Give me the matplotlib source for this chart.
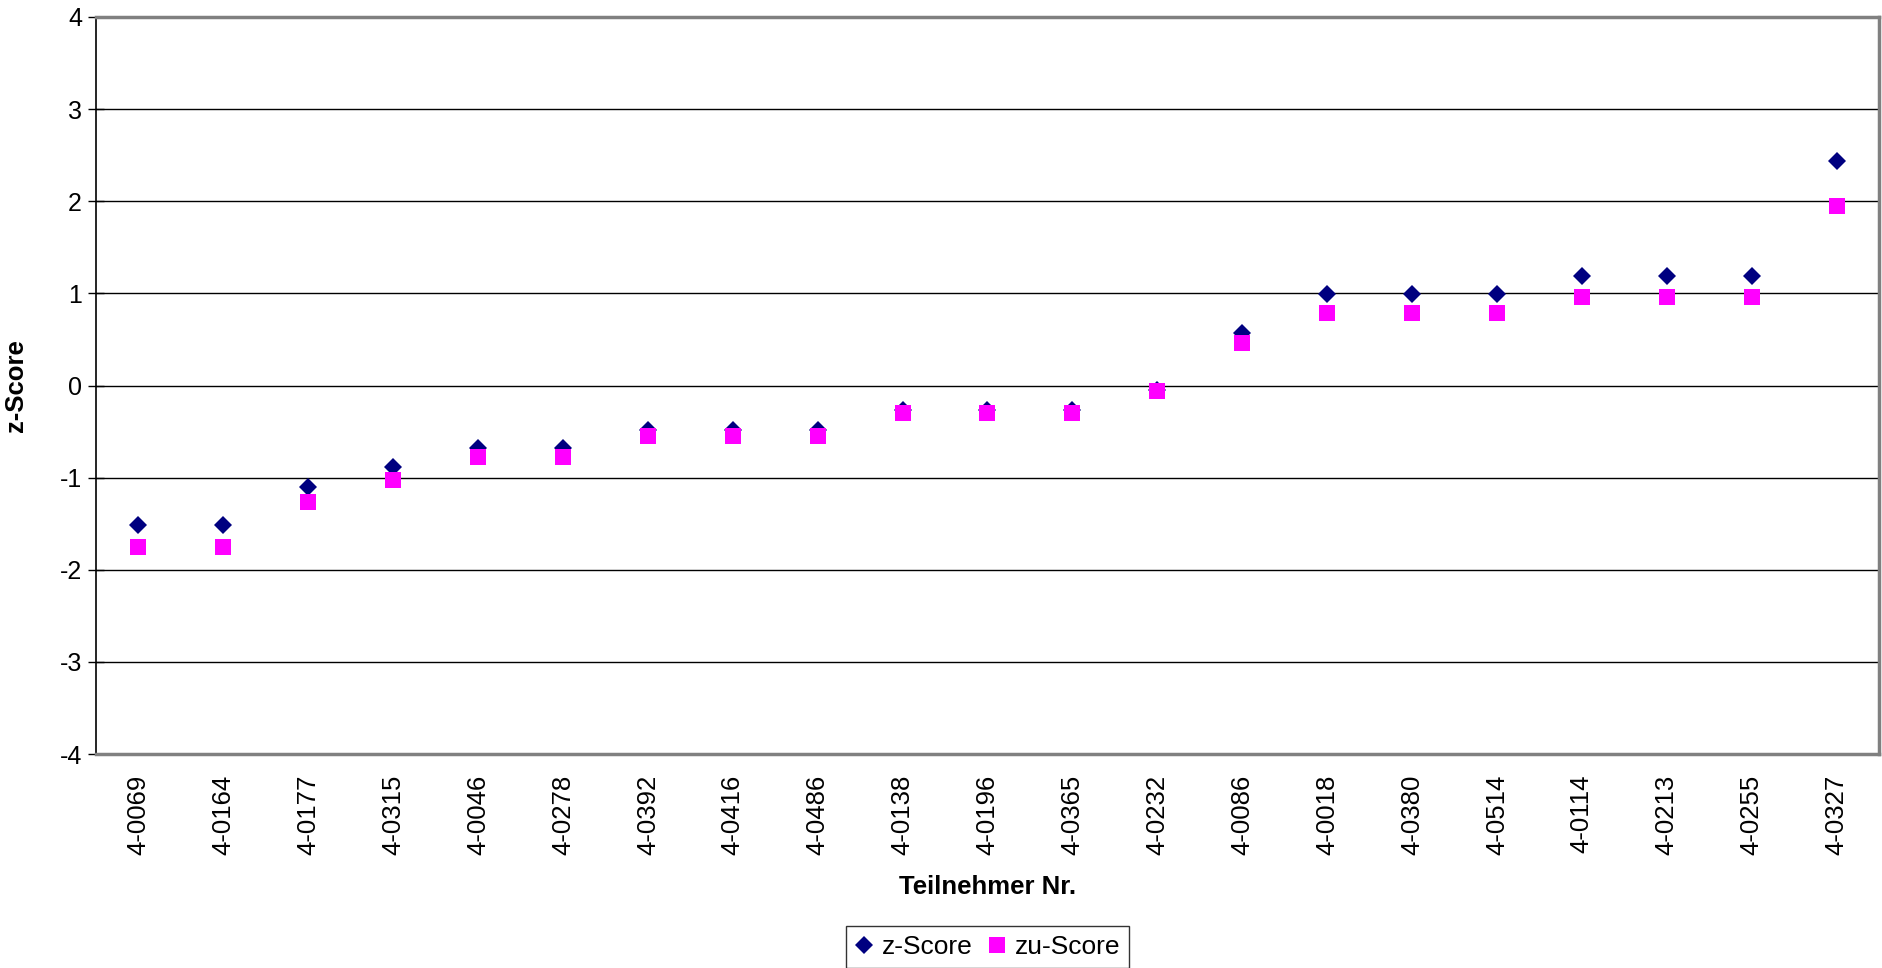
import matplotlib.pyplot as plt
import numpy as np

plt.rcParams['font.family'] = ['Liberation Sans', 'DejaVu Sans']
plt.rcParams['axes.unicode_minus'] = False

# Teilnehmer (Kategorien)
teilnehmer = ['4-0069', '4-0164', '4-0177', '4-0315', '4-0046', '4-0278', '4-0392',
              '4-0416', '4-0486', '4-0138', '4-0196', '4-0365', '4-0232', '4-0086',
              '4-0018', '4-0380', '4-0514', '4-0114', '4-0213', '4-0255', '4-0327']

# z-Score
z_score = [-1.51, -1.51, -1.10, -0.88, -0.68, -0.68, -0.48, -0.48, -0.48, -0.27, -0.27,
           -0.27, -0.05, 0.57, 0.99, 0.99, 0.99, 1.19, 1.19, 1.19, 2.44]

# zu-Score
zu_score = [-1.75, -1.75, -1.27, -1.03, -0.78, -0.78, -0.55, -0.55, -0.55, -0.30, -0.30,
            -0.30, -0.06, 0.46, 0.79, 0.79, 0.79, 0.96, 0.96, 0.96, 1.95]

x = np.arange(len(teilnehmer))

fig = plt.figure(figsize=(18.83, 9.68), dpi=100)
ax = fig.add_axes([96 / 1883, 1 - 754 / 968, (1879 - 96) / 1883, (754 - 17) / 968])

ax.plot(x, z_score, linestyle='none', marker='D', markersize=9.5, color='#000080',
        markeredgewidth=0, label='z-Score', zorder=3)
ax.plot(x, zu_score, linestyle='none', marker='s', markersize=11.5, color='#FF00FF',
        markeredgewidth=0, label='zu-Score', zorder=3)

ax.set_xlim(-0.5, len(teilnehmer) - 0.5)
ax.set_ylim(-4, 4)
ax.set_yticks(range(-4, 5))
ax.yaxis.grid(True, color='black', linewidth=1.0)
ax.set_axisbelow(True)

ax.set_xticks(x)
ax.set_xticklabels(teilnehmer, rotation=90, fontsize=18.5)
ax.tick_params(axis='x', length=0, pad=15)
ax.tick_params(axis='y', direction='inout', length=12, width=1, labelsize=18, pad=4,
               color='black')

for side in ['top', 'right', 'bottom']:
    ax.spines[side].set_color('#808080')
    ax.spines[side].set_linewidth(2.5)
ax.spines['left'].set_color('black')
ax.spines['left'].set_linewidth(1.2)

ax.set_xlabel('Teilnehmer Nr.', fontsize=18.5, fontweight='bold', labelpad=14)
ax.set_ylabel('z-Score', fontsize=18.5, fontweight='bold', labelpad=23)

leg = fig.legend(loc='lower center', bbox_to_anchor=(987.5 / 1883, 0.0), ncol=2,
                 fontsize=19, frameon=True, fancybox=False, edgecolor='black',
                 handlelength=0.7, handletextpad=0.3, columnspacing=0.6,
                 borderpad=0.35, borderaxespad=0)
leg.get_frame().set_linewidth(1.0)

fig.savefig('out.png', dpi=100)
